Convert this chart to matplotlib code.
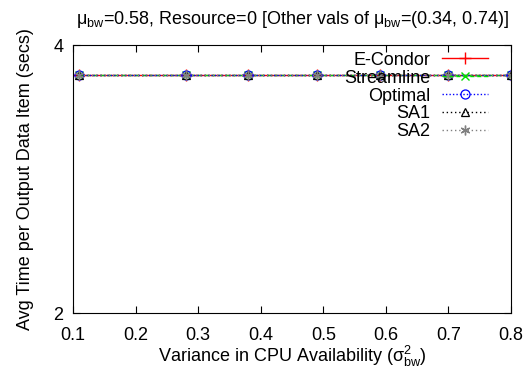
import numpy as np
import matplotlib.pyplot as plt
from matplotlib.ticker import FixedLocator, NullLocator, FormatStrFormatter

variance = [0.11, 0.28, 0.38, 0.49, 0.59, 0.70, 0.80]
e_condor = [3.70, 3.70, 3.70, 3.70, 3.70, 3.70, 3.70]
streamline = [3.70, 3.70, 3.70, 3.70, 3.70, 3.70, 3.70]
optimal = [3.70, 3.70, 3.70, 3.70, 3.70, 3.70, 3.70]
sa1 = [3.70, 3.70, 3.70, 3.70, 3.70, 3.70, 3.70]
sa2 = [3.70, 3.70, 3.70, 3.70, 3.70, 3.70, 3.70]

plt.rcParams['font.family'] = ['Liberation Sans', 'DejaVu Sans']
plt.rcParams['mathtext.fontset'] = 'custom'
plt.rcParams['mathtext.rm'] = 'Liberation Sans'
plt.rcParams['mathtext.it'] = 'Liberation Sans'
plt.rcParams['mathtext.default'] = 'regular'

fs = 13
fig = plt.figure(figsize=(5.32, 3.71), dpi=100)
ax = fig.add_axes([73/532, 1 - 313/371, (511-73)/532, (313-45)/371])

ax.plot(variance, e_condor, color='red', lw=1, marker='+', ms=8, mew=1, label='E-Condor')
ax.plot(variance, streamline, color='#00dd00', lw=1, ls=(0, (3, 2)), marker='x', ms=6, mew=1, label='Streamline')
ax.plot(variance, optimal, color='blue', lw=1, ls=(0, (1, 1.5)), marker='o', ms=6.5, mfc='none', mew=0.9, label='Optimal')
ax.plot(variance, sa1, color='black', lw=1, ls=(0, (1, 2)), marker='^', ms=5.5, mfc='none', mew=0.9, label='SA1')
ax.plot(variance, sa2, color='gray', lw=1, ls=(0, (1, 2)), marker=(6, 2, 0), ms=7, mew=1, label='SA2')

ax.set_yscale('log')
ax.set_xlim(0.1, 0.8)
ax.set_ylim(2, 4)
ax.yaxis.set_major_locator(FixedLocator([2, 4]))
ax.yaxis.set_minor_locator(NullLocator())
ax.yaxis.set_major_formatter(FormatStrFormatter('%g'))
ax.set_xticks(np.arange(0.1, 0.81, 0.1))
ax.xaxis.set_major_formatter(FormatStrFormatter('%.1f'))
ax.tick_params(direction='in', top=True, right=True, labelsize=fs, length=5)
ax.tick_params(axis='x', pad=10)
ax.tick_params(axis='y', pad=7)

ax.set_xlabel(r'Variance in CPU Availability ($\sigma^2_{bw}$)', fontsize=fs, labelpad=0)
ax.set_ylabel('Avg Time per Output Data Item (secs)', fontsize=fs, labelpad=14)
ax.set_title(r'$\mu_{bw}$=0.58, Resource=0 [Other vals of $\mu_{bw}$=(0.34, 0.74)]',
             fontsize=fs, pad=15)

ax.legend(loc='upper right', frameon=False, markerfirst=False, fontsize=fs,
          handlelength=2.55, labelspacing=0.05, borderpad=0, borderaxespad=0,
          handletextpad=0.66, bbox_to_anchor=(0.9475, 0.975))

fig.savefig('out.png', dpi=100)
